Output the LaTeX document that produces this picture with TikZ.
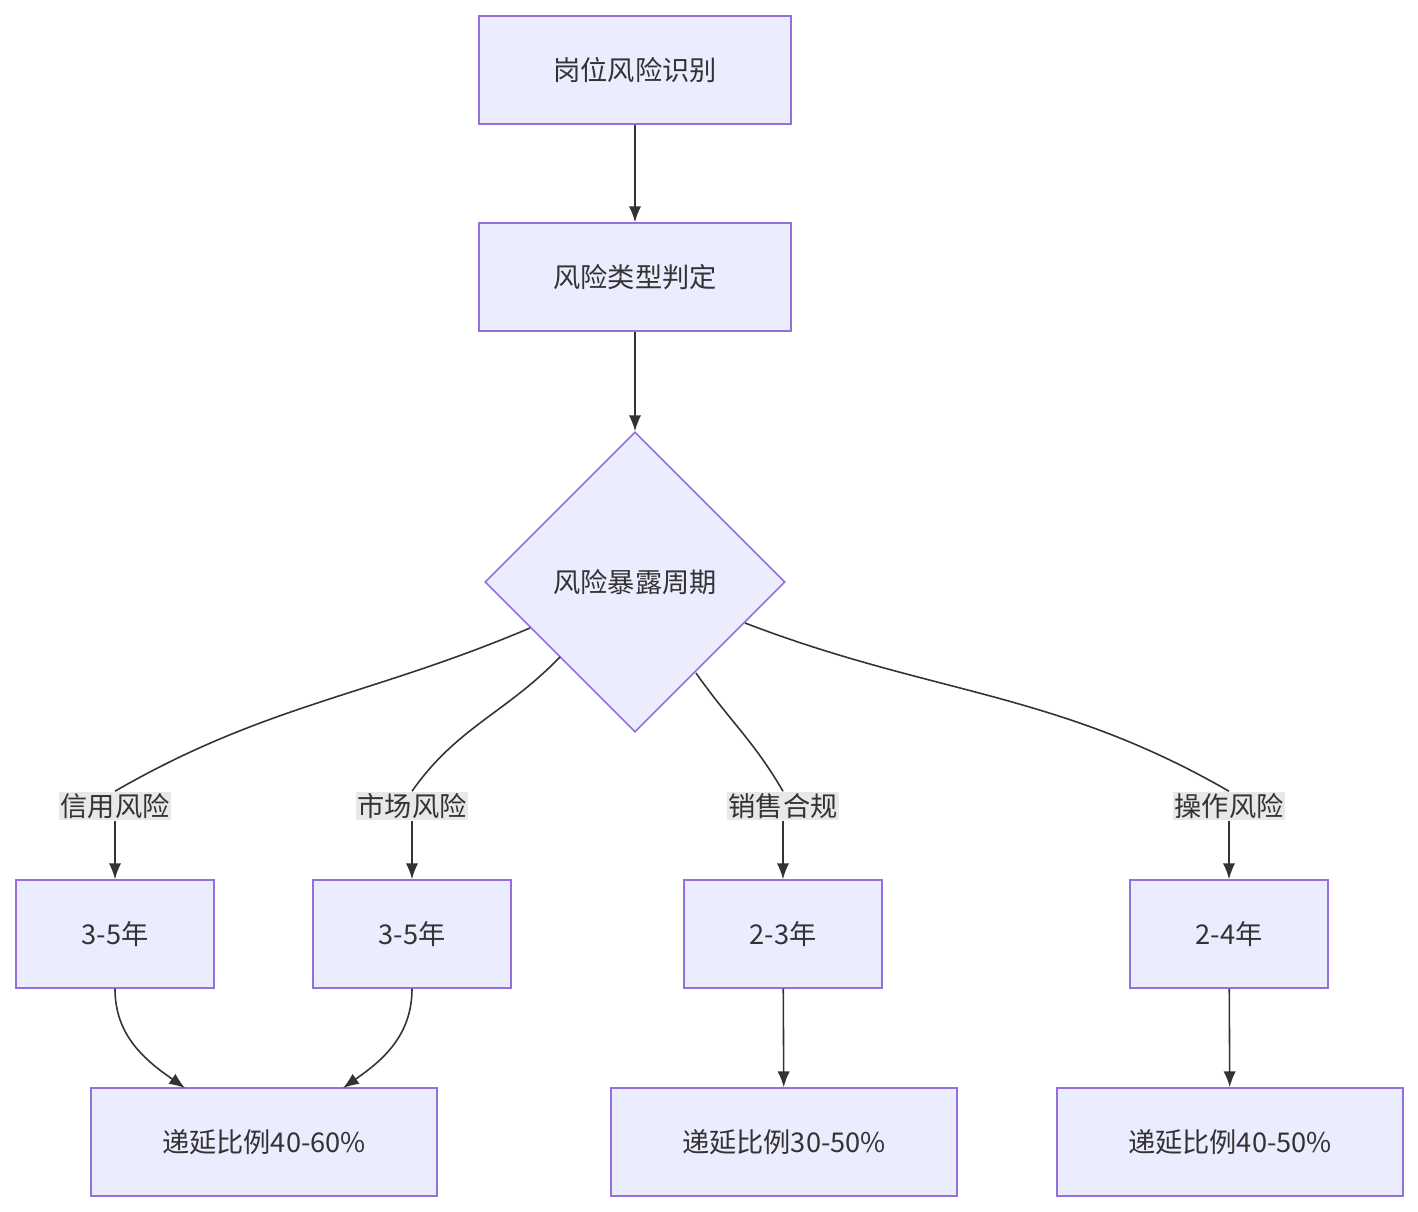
\documentclass[tikz,border=0pt]{standalone}
\usepackage{fontspec}
\setmainfont{Noto Sans CJK SC}
\usetikzlibrary{shapes.geometric,arrows.meta}
\definecolor{boxfill}{HTML}{ECECFF}
\definecolor{boxline}{HTML}{9370DB}
\definecolor{linkcol}{HTML}{333333}
\definecolor{lblfill}{HTML}{E8E8E8}
\tikzset{
  box/.style={draw=boxline, fill=boxfill, line width=0.9pt, rectangle, minimum height=108*0.02cm, inner sep=0pt, text=linkcol, font=\fontsize{15.5}{18}\selectfont},
  decide/.style={draw=boxline, fill=boxfill, line width=0.9pt, diamond, minimum width=6cm, minimum height=6cm, inner sep=0pt, text=linkcol, font=\fontsize{15.5}{18}\selectfont},
  lbl/.style={fill=lblfill, inner sep=1pt, text=linkcol, font=\fontsize{15.5}{18}\selectfont},
  link/.style={draw=linkcol, line width=0.9pt},
  arr/.style={link, -{Latex[length=9pt,width=7pt]}}
}
\begin{document}
\begin{tikzpicture}[x=0.02cm, y=-0.02cm]
\useasboundingbox (0,0) rectangle (1418,1212);
% top chain
\node[box, minimum width=312*0.02cm] (ident) at (635,70) {岗位风险识别};
\node[box, minimum width=312*0.02cm] (kind) at (635,277) {风险类型判定};
\node[decide] (expo) at (635,582) {风险暴露周期};
% periods
\node[box, minimum width=198*0.02cm] (credit) at (115,934) {3-5年};
\node[box, minimum width=198*0.02cm] (market) at (412,934) {3-5年};
\node[box, minimum width=198*0.02cm] (sales) at (783,934) {2-3年};
\node[box, minimum width=198*0.02cm] (oper) at (1229,934) {2-4年};
% deferral ratios
\node[box, minimum width=346*0.02cm] (defA) at (264,1142) {递延比例40-60\%};
\node[box, minimum width=346*0.02cm] (defB) at (784,1142) {递延比例30-50\%};
\node[box, minimum width=346*0.02cm] (defC) at (1230,1142) {递延比例40-50\%};
% edge labels
\node[lbl] (lcredit) at (115,806) {信用风险};
\node[lbl] (lmarket) at (412,806) {市场风险};
\node[lbl] (lsales) at (783,806) {销售合规};
\node[lbl] (loper) at (1229,806) {操作风险};
\coordinate (inA1) at (185,1088);
\coordinate (inA2) at (343,1088);
\coordinate (out1) at (530,628);
\coordinate (out2) at (560,657);
\coordinate (out3) at (696,673);
\coordinate (out4) at (745,623);

\draw[arr] (ident) -- (kind);
\draw[arr] (kind) -- (expo);
\draw[link] (out1) to[out=-157, in=30] (lcredit.north);
\draw[link] (out2) to[out=-134, in=55] (lmarket.north);
\draw[link] (out3) to[out=-55, in=120] (lsales.north);
\draw[link] (out4) to[out=-21, in=150] (loper.north);
\draw[arr] (lcredit.south) to[out=-90, in=90] (credit);
\draw[arr] (lmarket.south) to[out=-90, in=90] (market);
\draw[arr] (lsales.south) to[out=-90, in=90] (sales);
\draw[arr] (loper.south) to[out=-90, in=90] (oper);
\draw[arr] (credit.south) to[out=-90, in=145] (inA1);
\draw[arr] (market.south) to[out=-90, in=35] (inA2);
\draw[arr] (sales) -- (defB);
\draw[arr] (oper) -- (defC);
\end{tikzpicture}
\end{document}
